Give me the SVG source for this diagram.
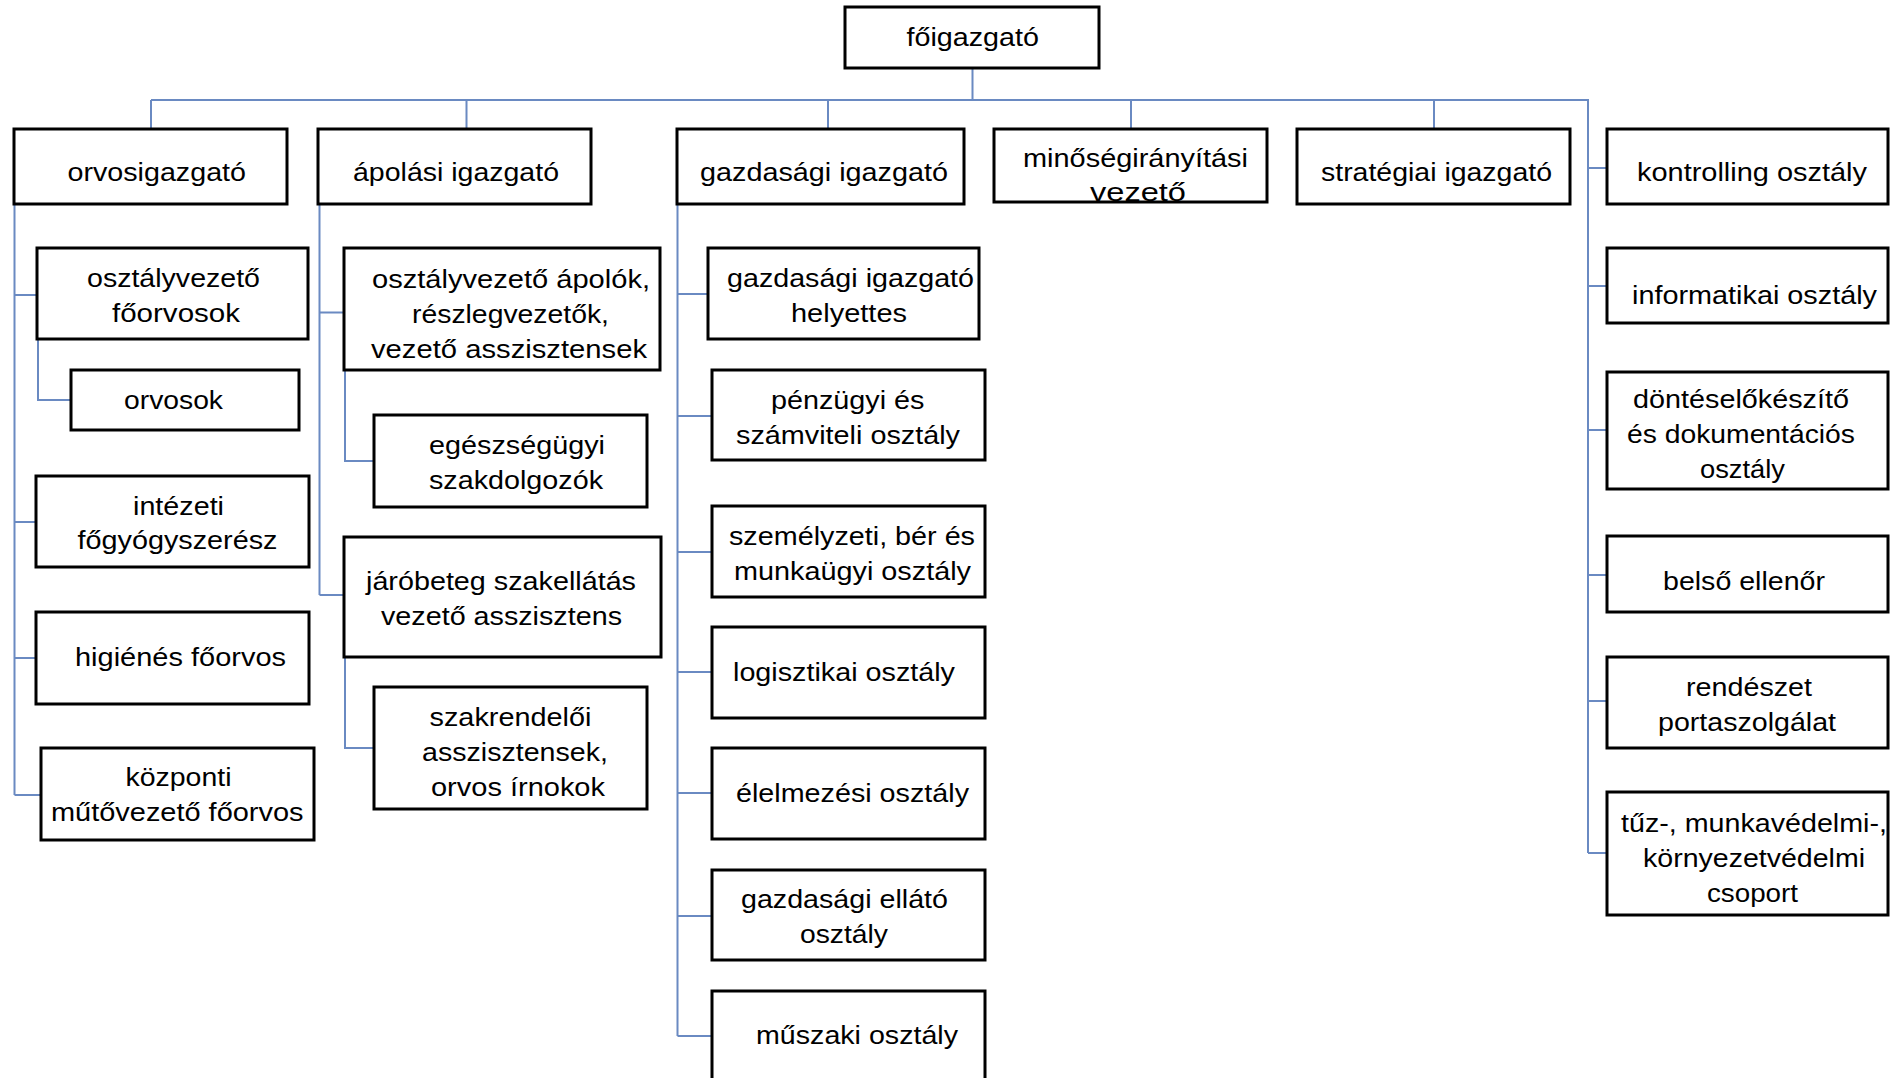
<svg xmlns="http://www.w3.org/2000/svg" width="1890" height="1078" viewBox="0 0 1890 1078">
<style>
.box{fill:#fff;stroke:#000;stroke-width:3}
.t{font-family:"Liberation Sans",Arial,sans-serif;font-size:26px;fill:#000}
.c{stroke:#6a8ac2;stroke-width:2;fill:none}
</style>
<rect width="1890" height="1078" fill="#fff"/>
<g id="connectors">
<path class="c" d="M972.5 68V100M151 100H1589M151 100V129M466.5 100V129M828 100V129M1131 100V129M1434 100V129"/>
<path class="c" d="M1588 100V853M1588 168H1607M1588 286H1607M1588 430H1607M1588 575H1607M1588 701H1607M1588 853H1607"/>
<path class="c" d="M14.5 204V795M14.5 295H37M14.5 522H36M14.5 658H36M14.5 795H41M38 339V400H71"/>
<path class="c" d="M319.5 204V595M319.5 312.5H344M319.5 595H344M345 370V461H374M345 657V748H374"/>
<path class="c" d="M677.5 204V1036M677.5 294H708M677.5 416H712M677.5 552H712M677.5 672H712M677.5 793H712M677.5 916H712M677.5 1036H712"/>
</g>
<g id="foigazgato"><rect class="box" x="845" y="7" width="254" height="61"/><text class="t" x="906.5" y="46" textLength="132.5" lengthAdjust="spacingAndGlyphs">főigazgató</text></g>
<g id="orvosigazgato"><rect class="box" x="14" y="129" width="273" height="75"/><text class="t" x="67.5" y="181" textLength="178.5" lengthAdjust="spacingAndGlyphs">orvosigazgató</text></g>
<g id="apolasi-igazgato"><rect class="box" x="318" y="129" width="273" height="75"/><text class="t" x="353" y="181" textLength="206" lengthAdjust="spacingAndGlyphs">ápolási igazgató</text></g>
<g id="gazdasagi-igazgato"><rect class="box" x="677" y="129" width="287" height="75"/><text class="t" x="700" y="181" textLength="248" lengthAdjust="spacingAndGlyphs">gazdasági igazgató</text></g>
<g id="minosegiranyitasi-vezeto"><rect class="box" x="994" y="129" width="273" height="73"/><text class="t" x="1023" y="167" textLength="225" lengthAdjust="spacingAndGlyphs">minőségirányítási</text><text class="t" x="1090" y="201" textLength="96" lengthAdjust="spacingAndGlyphs">vezető</text></g>
<g id="strategiai-igazgato"><rect class="box" x="1297" y="129" width="273" height="75"/><text class="t" x="1321" y="181" textLength="231" lengthAdjust="spacingAndGlyphs">stratégiai igazgató</text></g>
<g id="kontrolling-osztaly"><rect class="box" x="1607" y="129" width="281" height="75"/><text class="t" x="1637" y="181" textLength="230" lengthAdjust="spacingAndGlyphs">kontrolling osztály</text></g>

<g id="osztalyvezeto-foorvosok"><rect class="box" x="37" y="248" width="271" height="91"/><text class="t" x="87" y="287" textLength="173" lengthAdjust="spacingAndGlyphs">osztályvezető</text><text class="t" x="112" y="322" textLength="128" lengthAdjust="spacingAndGlyphs">főorvosok</text></g>
<g id="orvosok"><rect class="box" x="71" y="370" width="228" height="60"/><text class="t" x="124" y="409" textLength="99" lengthAdjust="spacingAndGlyphs">orvosok</text></g>
<g id="intezeti-fogyogyszeresz"><rect class="box" x="36" y="476" width="273" height="91"/><text class="t" x="133" y="515" textLength="91" lengthAdjust="spacingAndGlyphs">intézeti</text><text class="t" x="77.5" y="549" textLength="200" lengthAdjust="spacingAndGlyphs">főgyógyszerész</text></g>
<g id="higienes-foorvos"><rect class="box" x="36" y="612" width="273" height="92"/><text class="t" x="75" y="666" textLength="211" lengthAdjust="spacingAndGlyphs">higiénés főorvos</text></g>
<g id="kozponti-mutovezeto-foorvos"><rect class="box" x="41" y="748" width="273" height="92"/><text class="t" x="125.5" y="786" textLength="106" lengthAdjust="spacingAndGlyphs">központi</text><text class="t" x="51" y="821" textLength="252.5" lengthAdjust="spacingAndGlyphs">műtővezető főorvos</text></g>

<g id="osztalyvezeto-apolok"><rect class="box" x="344" y="248" width="316" height="122"/><text class="t" x="372" y="288" textLength="278" lengthAdjust="spacingAndGlyphs">osztályvezető ápolók,</text><text class="t" x="412" y="323" textLength="197" lengthAdjust="spacingAndGlyphs">részlegvezetők,</text><text class="t" x="371" y="358" textLength="276" lengthAdjust="spacingAndGlyphs">vezető asszisztensek</text></g>
<g id="egeszsegugyi-szakdolgozok"><rect class="box" x="374" y="415" width="273" height="92"/><text class="t" x="429" y="454" textLength="176" lengthAdjust="spacingAndGlyphs">egészségügyi</text><text class="t" x="429" y="489" textLength="174" lengthAdjust="spacingAndGlyphs">szakdolgozók</text></g>
<g id="jarobeteg-szakellatas"><rect class="box" x="344" y="537" width="317" height="120"/><text class="t" x="366" y="590" textLength="270" lengthAdjust="spacingAndGlyphs">járóbeteg szakellátás</text><text class="t" x="381" y="625" textLength="241" lengthAdjust="spacingAndGlyphs">vezető asszisztens</text></g>
<g id="szakrendeloi-asszisztensek"><rect class="box" x="374" y="687" width="273" height="122"/><text class="t" x="429.5" y="726" textLength="162" lengthAdjust="spacingAndGlyphs">szakrendelői</text><text class="t" x="422" y="761" textLength="186" lengthAdjust="spacingAndGlyphs">asszisztensek,</text><text class="t" x="431" y="796" textLength="174" lengthAdjust="spacingAndGlyphs">orvos írnokok</text></g>

<g id="gazdasagi-igazgato-helyettes"><rect class="box" x="708" y="248" width="271" height="91"/><text class="t" x="727" y="287" textLength="247" lengthAdjust="spacingAndGlyphs">gazdasági igazgató</text><text class="t" x="791" y="322" textLength="116" lengthAdjust="spacingAndGlyphs">helyettes</text></g>
<g id="penzugyi-szamviteli"><rect class="box" x="712" y="370" width="273" height="90"/><text class="t" x="771" y="409" textLength="153.5" lengthAdjust="spacingAndGlyphs">pénzügyi és</text><text class="t" x="736" y="444" textLength="224" lengthAdjust="spacingAndGlyphs">számviteli osztály</text></g>
<g id="szemelyzeti-ber-munkaugyi"><rect class="box" x="712" y="506" width="273" height="91"/><text class="t" x="729" y="545" textLength="246" lengthAdjust="spacingAndGlyphs">személyzeti, bér és</text><text class="t" x="734" y="580" textLength="237" lengthAdjust="spacingAndGlyphs">munkaügyi osztály</text></g>
<g id="logisztikai-osztaly"><rect class="box" x="712" y="627" width="273" height="91"/><text class="t" x="733" y="681" textLength="222" lengthAdjust="spacingAndGlyphs">logisztikai osztály</text></g>
<g id="elelmezesi-osztaly"><rect class="box" x="712" y="748" width="273" height="91"/><text class="t" x="736" y="802" textLength="233" lengthAdjust="spacingAndGlyphs">élelmezési osztály</text></g>
<g id="gazdasagi-ellato-osztaly"><rect class="box" x="712" y="870" width="273" height="90"/><text class="t" x="741" y="908" textLength="207" lengthAdjust="spacingAndGlyphs">gazdasági ellátó</text><text class="t" x="800" y="943" textLength="88" lengthAdjust="spacingAndGlyphs">osztály</text></g>
<g id="muszaki-osztaly"><rect class="box" x="712" y="991" width="273" height="100"/><text class="t" x="756" y="1044" textLength="202" lengthAdjust="spacingAndGlyphs">műszaki osztály</text></g>

<g id="informatikai-osztaly"><rect class="box" x="1607" y="248" width="281" height="75"/><text class="t" x="1632" y="304" textLength="245" lengthAdjust="spacingAndGlyphs">informatikai osztály</text></g>
<g id="donteselokeszito"><rect class="box" x="1607" y="372" width="281" height="117"/><text class="t" x="1633" y="408" textLength="216" lengthAdjust="spacingAndGlyphs">döntéselőkészítő</text><text class="t" x="1627" y="443" textLength="228" lengthAdjust="spacingAndGlyphs">és dokumentációs</text><text class="t" x="1700" y="478" textLength="85" lengthAdjust="spacingAndGlyphs">osztály</text></g>
<g id="belso-ellenor"><rect class="box" x="1607" y="536" width="281" height="76"/><text class="t" x="1663" y="590" textLength="162" lengthAdjust="spacingAndGlyphs">belső ellenőr</text></g>
<g id="rendeszet-portaszolgalat"><rect class="box" x="1607" y="657" width="281" height="91"/><text class="t" x="1686" y="696" textLength="126" lengthAdjust="spacingAndGlyphs">rendészet</text><text class="t" x="1658" y="731" textLength="178" lengthAdjust="spacingAndGlyphs">portaszolgálat</text></g>
<g id="tuz-munkavedelmi-csoport"><rect class="box" x="1607" y="792" width="281" height="123"/><text class="t" x="1621" y="832" textLength="266" lengthAdjust="spacingAndGlyphs">tűz-, munkavédelmi-,</text><text class="t" x="1643" y="867" textLength="222" lengthAdjust="spacingAndGlyphs">környezetvédelmi</text><text class="t" x="1707" y="902" textLength="91" lengthAdjust="spacingAndGlyphs">csoport</text></g>
</svg>
